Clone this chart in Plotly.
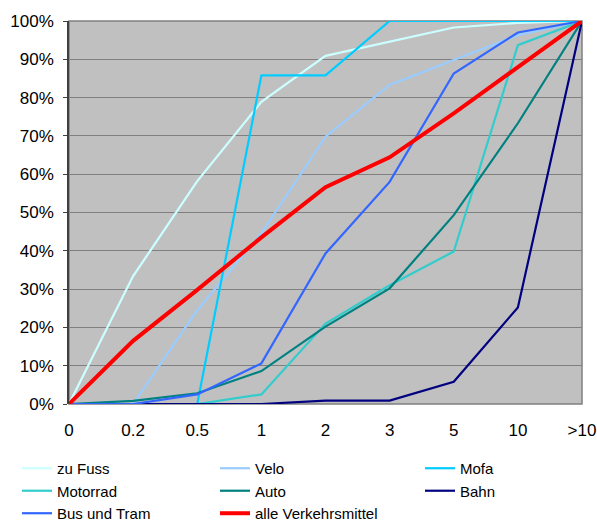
import plotly.graph_objects as go

categories = ["0", "0.2", "0.5", "1", "2", "3", "5", "10", ">10"]

zu_fuss = [0, 33.4, 58.2, 78.9, 90.9, 94.6, 98.3, 99.5, 100]
velo = [0, 0, 24.5, 44.6, 69.8, 83.3, 89.8, 96.3, 100]
mofa = [0, 0, 0, 85.8, 85.8, 100, 100, 100, 100]
motorrad = [0, 0, 0, 2.5, 21.0, 31.0, 39.8, 93.7, 100]
auto = [0, 0.8, 2.8, 8.6, 20.2, 30.2, 49.3, 73.3, 100]
bahn = [0, 0, 0, 0, 0.9, 0.9, 5.8, 25.2, 100]
bus_tram = [0, 0, 2.5, 10.6, 39.3, 58.0, 86.3, 97.0, 100]
alle = [0, 16.5, 29.8, 43.5, 56.6, 64.4, 75.9, 88.1, 100]

y_ticks = list(range(0, 101, 10))
y_tick_labels = [f"{v}%" for v in y_ticks]

# (name, values, colour, width, legend column)
series = [
    ("zu Fuss", zu_fuss, "#CCFFFF", 2.2, "legend"),
    ("Velo", velo, "#99CCFF", 2.2, "legend2"),
    ("Mofa", mofa, "#00CCFF", 2.2, "legend3"),
    ("Motorrad", motorrad, "#33CCCC", 2.2, "legend"),
    ("Auto", auto, "#008080", 2.2, "legend2"),
    ("Bahn", bahn, "#000080", 2.2, "legend3"),
    ("Bus und Tram", bus_tram, "#3366FF", 2.2, "legend"),
    ("alle Verkehrsmittel", alle, "#FF0000", 4, "legend2"),
]

fig = go.Figure()
for name, vals, color, w, lg in series:
    fig.add_trace(go.Scatter(
        x=categories, y=vals, name=name, mode="lines",
        line=dict(color=color, width=w),
        cliponaxis=False,
        legend=lg,
    ))

W, H = 597, 523


def leg(xpx):
    return dict(
        orientation="v",
        xref="container", yref="container",
        x=xpx / W, xanchor="left",
        y=0.1358, yanchor="top",
        font=dict(size=15),
        bgcolor="rgba(0,0,0,0)",
        itemwidth=30,
        tracegroupgap=0,
    )


fig.update_layout(
    width=W, height=H,
    margin=dict(l=69, r=15, t=21, b=119, autoexpand=False),
    paper_bgcolor="white",
    plot_bgcolor="#C0C0C0",
    font=dict(family="Liberation Sans, Arial, sans-serif", size=17, color="black"),
    showlegend=True,
    legend=leg(17),
    legend2=leg(215),
    legend3=leg(420),
    shapes=[dict(type="rect", xref="paper", yref="paper", x0=0, x1=1, y0=0, y1=1,
                 line=dict(color="#808080", width=1.5), layer="below")],
)

fig.update_xaxes(
    type="category",
    range=[0, 8],
    showgrid=False,
    showline=False,
    ticks="",
    ticklabelstandoff=14,
    zeroline=False,
    automargin=False,
)
fig.update_yaxes(
    range=[0, 100],
    tickvals=y_ticks,
    ticktext=y_tick_labels,
    showgrid=True,
    gridcolor="#808080",
    gridwidth=1,
    showline=True,
    linecolor="#404040",
    linewidth=1.5,
    ticks="outside",
    ticklen=4,
    tickcolor="#404040",
    ticklabelstandoff=6,
    zeroline=False,
    automargin=False,
)

fig.write_html(
    "out.html",
    config={"displayModeBar": False},
    post_script="document.body.style.margin='0';document.body.style.overflow='hidden';",
)
